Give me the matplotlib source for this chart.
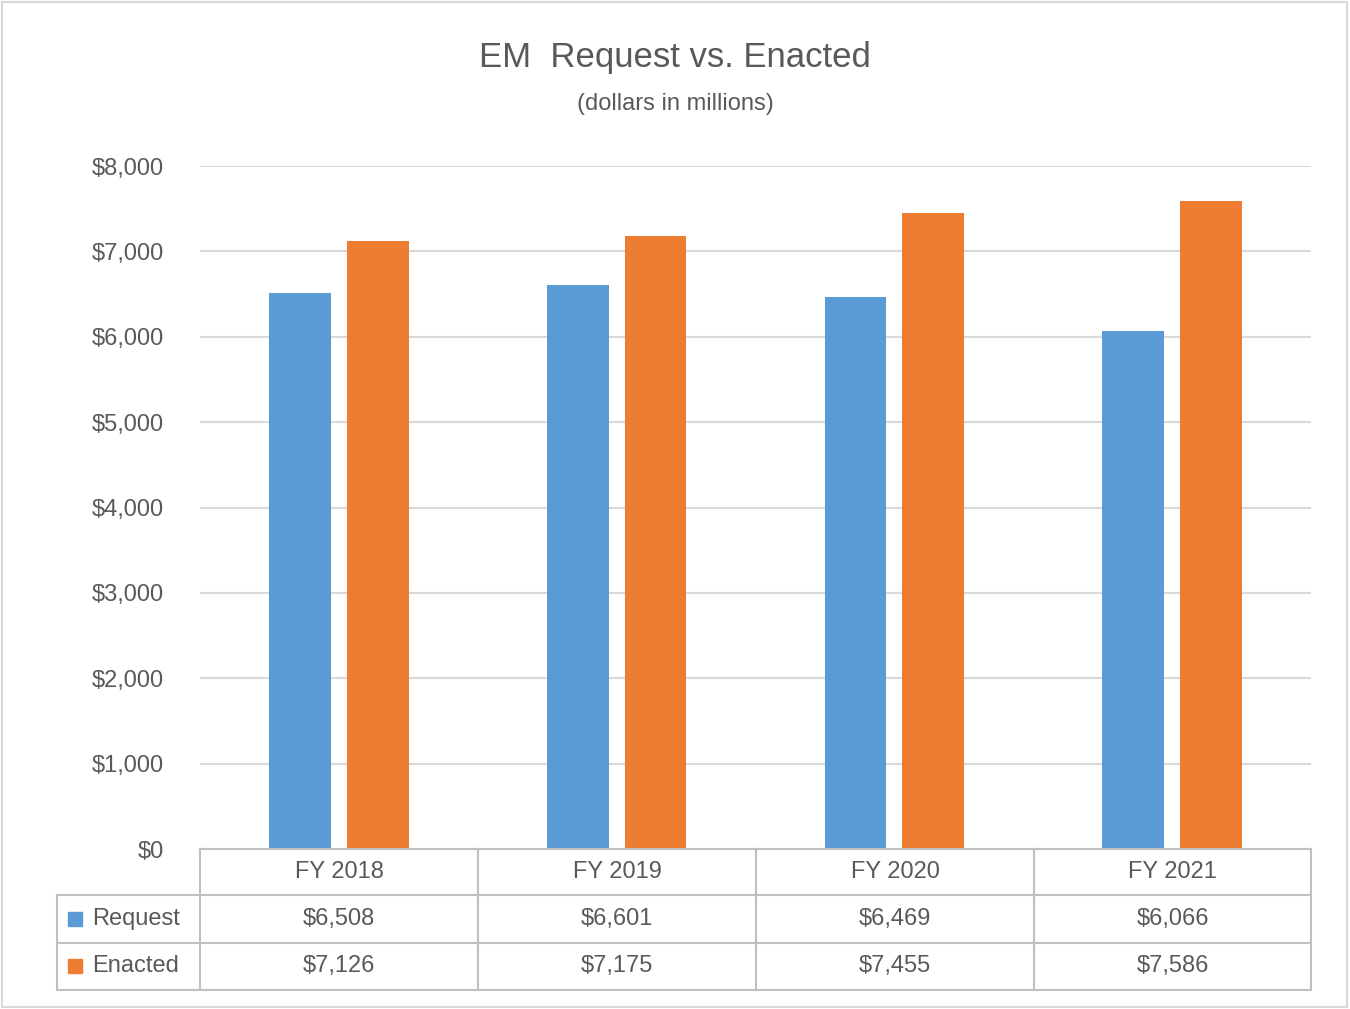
import matplotlib
matplotlib.use('Agg')
import numpy as np
from matplotlib import pyplot as plt
from matplotlib.lines import Line2D
from matplotlib.patches import Rectangle

# Data
categories = ['FY 2018', 'FY 2019', 'FY 2020', 'FY 2021']
request = [6508, 6601, 6469, 6066]
enacted = [7126, 7175, 7455, 7586]
series_names = ['Request', 'Enacted']
colors = ['#5B9BD5', '#ED7D31']

W, H = 1350, 1009
txt = '#595959'
grid = '#D9D9D9'
border = '#BFBFBF'
plt.rcParams['font.family'] = 'Liberation Sans'

fig = plt.figure(figsize=(W / 100, H / 100), dpi=100)

def fx(px):
    return px / W

def fy(py):
    return 1 - py / H

# Plot area
ax = fig.add_axes([fx(200), fy(849), fx(1311) - fx(200), fy(166) - fy(849)])
x = np.arange(len(categories))
ax.bar(x - 0.14, request, width=0.223, color=colors[0], zorder=3)
ax.bar(x + 0.14, enacted, width=0.223, color=colors[1], zorder=3)
ax.set_xlim(-0.5, len(categories) - 0.5)
ax.set_ylim(0, 8000)
ax.set_yticks(range(0, 8001, 1000))
ax.set_yticklabels(['${:,}'.format(v) for v in range(0, 8001, 1000)], color=txt, fontsize=17)
ax.tick_params(axis='y', length=0, pad=26)
ax.set_xticks([])
ax.yaxis.grid(True, color=grid, linewidth=1.5, zorder=0)
for s in ax.spines.values():
    s.set_visible(False)

# Title
fig.text(0.5, fy(58), 'EM  Request vs. Enacted', ha='center', va='center', fontsize=25, color=txt)
fig.text(0.5, fy(104), '(dollars in millions)', ha='center', va='center', fontsize=17, color=txt)

# Data table
def line(x0, y0, x1, y1):
    fig.add_artist(Line2D([fx(x0), fx(x1)], [fy(y0), fy(y1)], color=border, linewidth=1.5))

col_edges = [200, 478, 756, 1034, 1311]
for xe in col_edges:
    line(xe, 849, xe, 990)
line(57, 895, 57, 990)
line(200, 849, 1311, 849)
for ye in [895, 943, 990]:
    line(57, ye, 1311, ye)

row_y = [872, 919, 966]
for i, cat in enumerate(categories):
    cx = (col_edges[i] + col_edges[i + 1]) / 2
    fig.text(fx(cx), fy(row_y[0]), cat, ha='center', va='center', fontsize=17, color=txt)
    fig.text(fx(cx), fy(row_y[1]), '${:,}'.format(request[i]), ha='center', va='center', fontsize=17, color=txt)
    fig.text(fx(cx), fy(row_y[2]), '${:,}'.format(enacted[i]), ha='center', va='center', fontsize=17, color=txt)

for name, c, yy in zip(series_names, colors, row_y[1:]):
    fig.add_artist(Rectangle((fx(68), fy(yy + 7)), fx(14), fy(0) - fy(14), color=c))
    fig.text(fx(92), fy(yy), name, ha='left', va='center', fontsize=17, color=txt)

# Outer border
fig.add_artist(Rectangle((fx(2), fy(1007)), fx(1345), fy(0) - fy(1005), fill=False,
                         edgecolor='#D9D9D9', linewidth=1.5))

fig.savefig('out.png', dpi=100)
